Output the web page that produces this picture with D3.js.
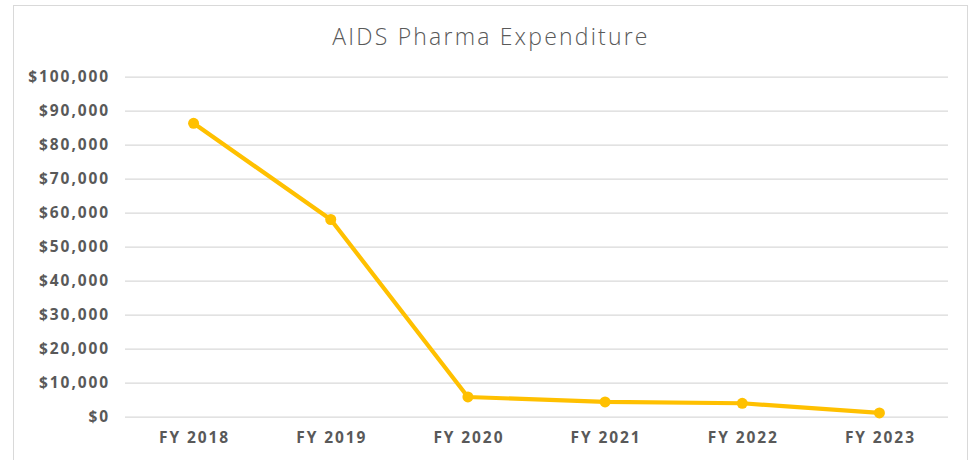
<!DOCTYPE html>
<html><head><meta charset="utf-8">
<script src="https://cdn.jsdelivr.net/npm/d3@7"></script>
<style>body{margin:0;background:#fff;}svg{display:block;}</style>
</head><body>
<svg id="chart" width="975" height="460"></svg>
<script>
const categories = ["FY 2018","FY 2019","FY 2020","FY 2021","FY 2022","FY 2023"];
const values = [86300, 58000, 5800, 4350, 3950, 1100];
const yTicks = [0,10000,20000,30000,40000,50000,60000,70000,80000,90000,100000];
const title = "AIDS Pharma Expenditure";

const svg = d3.select("#chart");
const W = 975, H = 460;
const m = {left:125, right:27, top:76.7, bottom:43.3};
const FONT = "'Open Sans', Lato, sans-serif";
svg.append("rect").attr("x",13.5).attr("y",5.5).attr("width",954).attr("height",470)
  .attr("fill","#fff").attr("stroke","#d9d9d9").attr("stroke-width",1);

const x = d3.scaleBand().domain(categories).range([m.left, W-m.right]).paddingInner(0).paddingOuter(0);
const y = d3.scaleLinear().domain([0,100000]).range([H-m.bottom, m.top]);

const fmt = v => "$" + d3.format(",")(v);
const yAxis = d3.axisLeft(y).tickValues(yTicks).tickFormat(fmt).tickSize(-(W-m.right-m.left)).tickPadding(15);
const gy = svg.append("g").attr("transform",`translate(${m.left},0)`).call(yAxis);
gy.select(".domain").remove();
gy.selectAll(".tick line").attr("stroke","#d9d9d9").attr("stroke-width",1.3);
gy.selectAll(".tick text").attr("fill","#595959").style("font-family",FONT)
  .style("font-weight","700").style("font-size","15.5px").style("letter-spacing","1.9px");

const xAxis = d3.axisBottom(x).tickSize(0).tickPadding(15);
const gx = svg.append("g").attr("transform",`translate(1,${H-m.bottom})`).call(xAxis);
gx.select(".domain").remove();
gx.selectAll(".tick text").attr("fill","#595959").style("font-family",FONT)
  .style("font-weight","700").style("font-size","15.5px").style("letter-spacing","1.9px");

const cx = d => x(d) + x.bandwidth()/2;
const line = d3.line().x((d,i)=>cx(categories[i])).y(d=>y(d));
svg.append("path").datum(values).attr("d",line).attr("fill","none")
  .attr("stroke","#FFC000").attr("stroke-width",4.2).attr("stroke-linejoin","round");
svg.selectAll("circle.pt").data(values).join("circle").attr("class","pt")
  .attr("cx",(d,i)=>cx(categories[i])).attr("cy",d=>y(d)).attr("r",5.5).attr("fill","#FFC000");

svg.append("text").attr("x",491).attr("y",45).attr("text-anchor","middle")
  .attr("fill","#595959").style("font-family",FONT)
  .style("font-weight","300").style("font-size","23px").style("letter-spacing","2.2px").text(title);
</script>
</body></html>
